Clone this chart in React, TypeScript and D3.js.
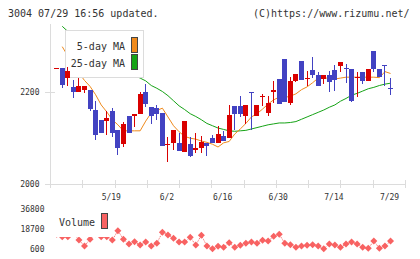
import { useEffect, useRef } from 'react';
import * as d3 from 'd3';

// daily OHLC, 5/1 .. 7/29
const opens  = [2249,2250,2230,2210,2198,2203,2204,2160,2139,2137,2157,2117,2086,2148,2146,2152,2200,2167,2164,2153,2086,2088,2088,2070,2087,2074,2077,2088,2100,2088,2104,2099,2169,2169,2148,2200,2146,2189,2154,2198,2227,2271,2175,2222,2266,2228,2247,2236,2227,2236,2247,2256,2250,2249,2230,2243,2222,2288,2249,2258,2208];
const highs  = [2250,2250,2254,2225,2229,2211,2204,2180,2139,2158,2165,2117,2135,2148,2152,2199,2217,2167,2170,2153,2102,2117,2110,2136,2102,2111,2104,2088,2105,2126,2114,2171,2169,2191,2171,2200,2171,2195,2191,2222,2227,2271,2232,2238,2266,2245,2275,2243,2236,2245,2258,2264,2260,2249,2243,2243,2249,2288,2249,2258,2230];
const lows   = [2249,2207,2212,2186,2198,2197,2157,2095,2110,2106,2102,2063,2081,2111,2123,2152,2167,2130,2139,2083,2048,2074,2072,2070,2059,2068,2068,2061,2088,2088,2094,2099,2117,2144,2129,2117,2146,2169,2148,2175,2173,2178,2171,2220,2224,2213,2230,2213,2217,2200,2201,2243,2219,2178,2189,2217,2222,2243,2232,2213,2193];
const closes = [2250,2215,2245,2198,2212,2211,2162,2106,2110,2143,2110,2077,2130,2111,2152,2195,2174,2146,2152,2083,2087,2117,2072,2136,2061,2078,2090,2083,2088,2108,2094,2150,2152,2151,2171,2197,2171,2191,2176,2204,2173,2178,2223,2238,2224,2230,2235,2213,2236,2220,2224,2264,2248,2180,2232,2222,2249,2249,2232,2256,2206];

const ma5 = [null,2297,2277,2258,2240,2224,2211,2193,2171,2156,2139,2128,2115,2115,2115,2115,2136,2154,2159,2164,2145,2126,2113,2103,2099,2097,2093,2090,2086,2080,2089,2092,2108,2119,2131,2145,2152,2162,2173,2182,2188,2187,2190,2195,2204,2210,2219,2229,2229,2229,2227,2229,2231,2231,2231,2231,2231,2231,2230,2243,2239];
const ma25 = [null,2341,2330,2322,2313,2304,2296,2287,2280,2271,2263,2256,2248,2242,2235,2229,2223,2213,2207,2200,2191,2180,2169,2161,2152,2146,2139,2131,2126,2121,2118,2115,2114,2115,2116,2119,2122,2125,2128,2130,2132,2132,2133,2135,2140,2145,2150,2155,2160,2166,2171,2179,2185,2192,2196,2201,2206,2209,2213,2216,2218];

const volumes = [14000,11700,11700,15000,8700,3300,9400,14500,11700,11700,8700,17200,9400,5100,7200,4200,6900,3300,5800,15700,13300,10300,6900,6900,11200,4200,13000,3300,900,3000,2100,6300,2100,4000,5800,6900,5800,8500,7800,12100,13900,5800,4500,2100,3300,4000,4500,3300,900,5100,4200,2100,5100,6900,5100,2100,1200,7800,1200,3300,7800];

const dateLabels = ['5/19','6/2','6/16','6/30','7/14','7/29'];
const dateIndex  = [10, 20, 30, 40, 50, 60];
const priceTicks = [2000, 2200];
const volumeTicks = [600, 18700, 36800];

const UP = '#d90000';
const DOWN = '#4242c2';
const MA5_COLOR = '#ef8a1c';
const MA25_COLOR = '#16a316';
const VOL_COLOR = '#f86262';
const AXIS = '#dcdcdc';
const TEXT = '#333';
const MONO = '"DejaVu Sans Mono", "Liberation Mono", monospace';

export default function App() {
  const svgRef = useRef<SVGSVGElement>(null);

  useEffect(() => {
    const svg = d3.select(svgRef.current);
    svg.selectAll('*').remove();

    const left = 50, right = 405, top = 24, bottom = 184;
    const x = d3.scaleLinear().domain([-1.2, 62.6]).range([left, right]);
    const y = d3.scaleLinear().domain([2000, 2346]).range([bottom, top]);
    const yv = d3.scaleLinear().domain([600, 36800]).range([249, 209]);
    const grid = d3.scaleLinear().domain([0, 11]).range([left, right]);

    // header
    svg.append('text').attr('x', 8).attr('y', 16.5)
      .style('font-family', MONO).style('font-size', '10px').style('fill', TEXT)
      .text('3004 07/29 16:56 updated.');
    svg.append('text').attr('x', 409.5).attr('y', 16.5).attr('text-anchor', 'end')
      .style('font-family', MONO).style('font-size', '10px').style('fill', TEXT)
      .text('(C)https://www.rizumu.net/');

    // axes
    const axes = svg.append('g').attr('shape-rendering', 'crispEdges').attr('stroke', AXIS);
    axes.append('line').attr('x1', left + 0.5).attr('x2', left + 0.5).attr('y1', top).attr('y2', bottom + 4);
    axes.append('line').attr('x1', left - 5).attr('x2', right).attr('y1', bottom + 0.5).attr('y2', bottom + 0.5);
    axes.selectAll('.gt').data(d3.range(12)).enter().append('line')
      .attr('x1', d => Math.round(grid(d)) + 0.5).attr('x2', d => Math.round(grid(d)) + 0.5)
      .attr('y1', bottom - 4).attr('y2', bottom + 4);
    axes.selectAll('.pt').data(priceTicks.filter(p => p !== 2000)).enter().append('line')
      .attr('x1', left - 5).attr('x2', left + 5)
      .attr('y1', d => Math.round(y(d)) + 0.5).attr('y2', d => Math.round(y(d)) + 0.5);

    svg.selectAll('.plabel').data(priceTicks).enter().append('text')
      .attr('x', 39.5).attr('y', d => y(d) + 3).attr('text-anchor', 'end')
      .style('font-family', MONO).style('font-size', '8px').style('fill', TEXT)
      .text(d => d);

    svg.selectAll('.xlabel').data(dateLabels).enter().append('text')
      .attr('x', (d, i) => x(dateIndex[i]) - 1).attr('y', 200).attr('text-anchor', 'middle')
      .style('font-family', MONO).style('font-size', '8px').style('fill', TEXT)
      .text(d => d);

    // moving averages
    svg.append('clipPath').attr('id', 'plot-clip').append('rect')
      .attr('x', left).attr('y', top).attr('width', right - left).attr('height', bottom - top);
    const maLine = d3.line<number | null>()
      .defined(d => d != null)
      .x((d, i) => x(i))
      .y(d => y(d as number));
    const mas = svg.append('g').attr('clip-path', 'url(#plot-clip)');
    mas.append('path').attr('d', maLine(ma25)).attr('fill', 'none').attr('stroke', MA25_COLOR).attr('stroke-width', 1);
    mas.append('path').attr('d', maLine(ma5)).attr('fill', 'none').attr('stroke', MA5_COLOR).attr('stroke-width', 1);

    // legend
    const lg = svg.append('g');
    lg.append('rect').attr('x', 65.5).attr('y', 30.5).attr('width', 77.5).attr('height', 47)
      .attr('fill', '#fff').attr('stroke', AXIS).attr('shape-rendering', 'crispEdges');
    [['5-day MA', MA5_COLOR], ['25-day MA', MA25_COLOR]].forEach(([label, color], i) => {
      lg.append('text').attr('x', 125).attr('y', 50 + i * 16.7).attr('text-anchor', 'end')
        .style('font-family', MONO).style('font-size', '10px').style('fill', TEXT).text(label);
      lg.append('rect').attr('x', 131.5).attr('y', 37.5 + i * 17).attr('width', 5.5).attr('height', 14.5)
        .attr('fill', color).attr('stroke', '#444').attr('shape-rendering', 'crispEdges');
    });

    // candles
    const candles = svg.append('g').attr('shape-rendering', 'crispEdges');
    const idx = d3.range(closes.length);
    candles.selectAll('.wick').data(idx).enter().append('line')
      .attr('x1', i => Math.floor(x(i)) + 0.5).attr('x2', i => Math.floor(x(i)) + 0.5)
      .attr('y1', i => y(highs[i])).attr('y2', i => y(lows[i]))
      .attr('stroke', i => closes[i] >= opens[i] ? UP : DOWN);
    candles.selectAll('.body').data(idx).enter().append('rect')
      .attr('x', i => Math.floor(x(i)) - 2)
      .attr('width', 5)
      .attr('y', i => y(Math.max(opens[i], closes[i])))
      .attr('height', i => Math.max(1, Math.abs(y(opens[i]) - y(closes[i]))))
      .attr('fill', i => closes[i] >= opens[i] ? UP : DOWN);

    // volume
    svg.selectAll('.vlabel').data(volumeTicks).enter().append('text')
      .attr('x', 44.5).attr('y', d => yv(d) + 3).attr('text-anchor', 'end')
      .style('font-family', MONO).style('font-size', '8px').style('fill', TEXT)
      .text(d => d);
    const volLine = d3.line<number>().x((d, i) => x(i)).y(d => yv(d));
    svg.append('path').attr('d', volLine(volumes)).attr('fill', 'none')
      .attr('stroke', VOL_COLOR).attr('stroke-width', 1).attr('stroke-dasharray', '1,1');
    svg.selectAll('.vdot').data(volumes).enter().append('path')
      .attr('d', 'M0,-3.5L3.5,0L0,3.5L-3.5,0Z')
      .attr('transform', (d, i) => `translate(${x(i)},${yv(d)})`)
      .attr('fill', VOL_COLOR);

    const vl = svg.append('g');
    vl.append('rect').attr('x', 53).attr('y', 205).attr('width', 58).attr('height', 32).attr('fill', '#fff');
    vl.append('text').attr('x', 59).attr('y', 225.5)
      .style('font-family', MONO).style('font-size', '10px').style('fill', TEXT).text('Volume');
    vl.append('rect').attr('x', 101.5).attr('y', 213.5).attr('width', 5.5).attr('height', 14.5)
      .attr('fill', VOL_COLOR).attr('stroke', '#444').attr('shape-rendering', 'crispEdges');
  }, []);

  return (
    <svg ref={svgRef} width={420} height={259}
      style={{ position: 'absolute', left: 0, top: 0, background: '#fff' }} />
  );
}
